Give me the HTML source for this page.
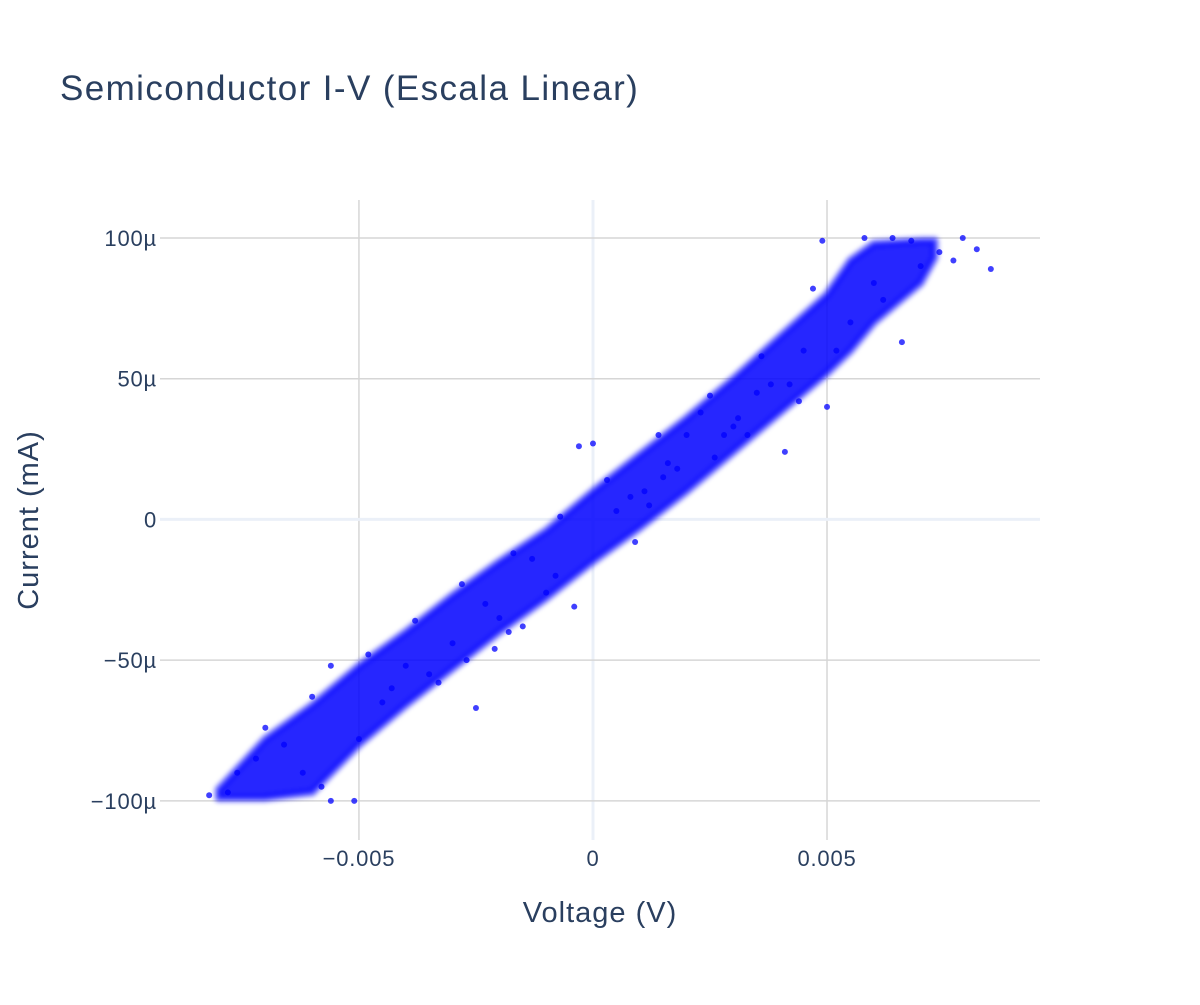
<!DOCTYPE html>
<html><head><meta charset="utf-8"><style>
body{margin:0;background:#fff;}
svg{font-family:"Liberation Sans",sans-serif;}
</style></head><body>
<svg id="chart" width="1200" height="1000">
<defs><filter id="soft" x="-5%" y="-5%" width="110%" height="110%"><feGaussianBlur stdDeviation="2.5"/></filter></defs>
<rect width="1200" height="1000" fill="#fff"/>
<text x="60" y="100" font-size="35" letter-spacing="1.4" fill="#2a3f5f">Semiconductor I-V (Escala Linear)</text>
<g id="grid"></g>
<g id="band"></g>
<g id="pts"></g>
<g id="ticks"></g>
<text x="600" y="922" font-size="29" letter-spacing="1" fill="#2a3f5f" text-anchor="middle">Voltage (V)</text>
<text transform="translate(38,520) rotate(-90)" font-size="29" letter-spacing="1" fill="#2a3f5f" text-anchor="middle">Current (mA)</text>
</svg>
<script>
// data (voltage in V, current in µA)
const xTicks=[-0.005,0,0.005];
const xTickLabels=["−0.005","0","0.005"];
const yTicks=[-100,-50,0,50,100];
const yTickLabels=["−100µ","−50µ","0","50µ","100µ"];
const bandV=[-0.0080,-0.007,-0.006,-0.005,-0.004,-0.003,-0.002,-0.001,0,0.001,0.002,0.003,0.004,0.005,0.0055,0.006,0.007,0.0073];
const bandUpper=[-96,-78,-66,-52,-40,-27,-15,-4,10,23,36,50,65,80,92,98,99,99];
const bandLower=[-99,-99,-97,-80,-66,-53,-40,-28,-15,-3,10,24,38,52,60,70,84,93];
const ptV=[0.0085,0.0082,0.0079,0.0066,0.0050,0.0049,0.0041,0.0031,0.0023,0.0015,0.0012,-0.0003,-0.0004,-0.0018,-0.0027,-0.0025,-0.0056,-0.0051,-0.0082,-0.0056,0.0000,0.0074,0.0070,0.0060,0.0045,0.0035,0.0028,0.0018,0.0008,-0.0010,-0.0020,-0.0035,-0.0045,-0.0062,-0.0072,-0.0078,-0.0066,0.0052,0.0042,0.0030,0.0016,0.0005,-0.0008,-0.0015,-0.0030,-0.0040,-0.0050,-0.0058,0.0062,0.0077,0.0038,0.0011,-0.0013,-0.0043,0.0020,-0.0023,0.0055,0.0026,0.0058,0.0064,0.0068,0.0047,0.0036,0.0025,0.0014,0.0003,-0.0007,-0.0017,-0.0028,-0.0038,-0.0048,-0.0060,-0.0070,-0.0076,0.0033,0.0044,0.0009,-0.0021,-0.0033];
const ptI=[89,96,100,63,40,99,24,36,38,15,5,26,-31,-40,-50,-67,-100,-100,-98,-52,27,95,90,84,60,45,30,18,8,-26,-35,-55,-65,-90,-85,-97,-80,60,48,33,20,3,-20,-38,-44,-52,-78,-95,78,92,48,10,-14,-60,30,-30,70,22,100,100,99,82,58,44,30,14,1,-12,-23,-36,-48,-63,-74,-90,30,42,-8,-46,-58];
const X0=160,X1=1040,XMIN=-0.00925,XMAX=0.00955,Y0=200,Y1=840,YMIN=-113.9,YMAX=113.5;
const sx=v=>X0+(v-XMIN)/(XMAX-XMIN)*(X1-X0);
const sy=i=>Y1-(i-YMIN)/(YMAX-YMIN)*(Y1-Y0);
const NS="http://www.w3.org/2000/svg";
function mk(tag,parent){const e=document.createElementNS(NS,tag);document.getElementById(parent).appendChild(e);return e;}
xTicks.forEach((t,k)=>{
 const l=mk('line','grid');
 
 
 l.setAttribute('x1',sx(t));l.setAttribute('x2',sx(t));l.setAttribute('y1',Y0);l.setAttribute('y2',Y1);
 l.setAttribute('stroke',t===0?'#ebf0f8':'#d6d6d6');l.setAttribute('stroke-width',t===0?3:1.5);
 const tx=mk('text','ticks');
 
 
 tx.setAttribute('x',sx(t));tx.setAttribute('y',866);tx.setAttribute('text-anchor','middle');
 tx.setAttribute('font-size','22');tx.setAttribute('letter-spacing','0.8');tx.setAttribute('fill','#2a3f5f');tx.textContent=xTickLabels[k];
});
yTicks.forEach((t,k)=>{
 const l=mk('line','grid');
 
 
 l.setAttribute('x1',X0);l.setAttribute('x2',X1);l.setAttribute('y1',sy(t));l.setAttribute('y2',sy(t));
 l.setAttribute('stroke',t===0?'#ebf0f8':'#d6d6d6');l.setAttribute('stroke-width',t===0?3:1.5);
 const tx=mk('text','ticks');
 
 
 tx.setAttribute('x',157);tx.setAttribute('y',sy(t)+8);tx.setAttribute('text-anchor','end');
 tx.setAttribute('font-size','22');tx.setAttribute('letter-spacing','0.8');tx.setAttribute('fill','#2a3f5f');tx.textContent=yTickLabels[k];
});
let d='';
bandV.forEach((v,k)=>{d+=(k?'L':'M')+sx(v)+','+sy(bandUpper[k]);});
for(let k=bandV.length-1;k>=0;k--){d+='L'+sx(bandV[k])+','+sy(bandLower[k]);}
d+='Z';
const p=mk('path','band');


p.setAttribute('d',d);p.setAttribute('fill','#0000ff');p.setAttribute('fill-opacity','0.85');
p.setAttribute('stroke','#0000ff');p.setAttribute('stroke-opacity','0.55');p.setAttribute('stroke-width','8');p.setAttribute('stroke-linejoin','round');
p.setAttribute('filter','url(#soft)');
ptV.forEach((v,k)=>{
 const c=mk('circle','pts');
 
 
 c.setAttribute('cx',sx(v));c.setAttribute('cy',sy(Math.max(-100,Math.min(100,ptI[k]))));
 c.setAttribute('r',3);c.setAttribute('fill','#0000ff');c.setAttribute('fill-opacity','0.75');
});
</script>
</body></html>
